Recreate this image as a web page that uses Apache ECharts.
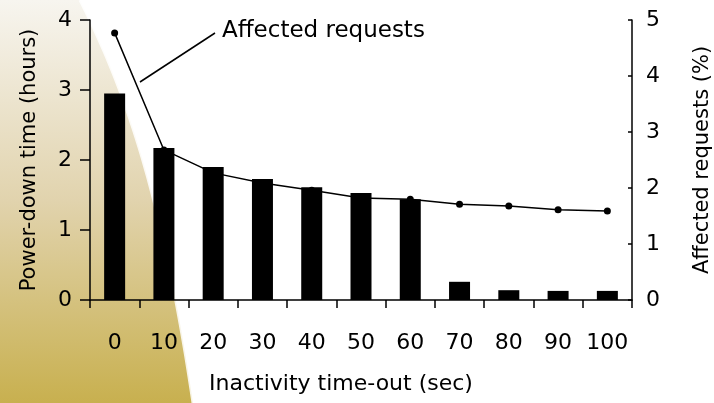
<!DOCTYPE html>
<html><head><meta charset="utf-8">
<script src="https://cdn.jsdelivr.net/npm/echarts@6/dist/echarts.min.js"></script>
<style>html,body{margin:0;padding:0;background:#fff}#c{width:714px;height:403px}</style>
</head><body><div id="c"></div>
<script>
const categories = ['0','10','20','30','40','50','60','70','80','90','100'];
const powerDownHours = [2.95, 2.17, 1.90, 1.73, 1.61, 1.53, 1.44, 0.26, 0.14, 0.13, 0.13];
const affectedPct = [4.77, 2.68, 2.27, 2.09, 1.96, 1.82, 1.80, 1.71, 1.68, 1.61, 1.59];

const FONT = 'DejaVu Sans';

// decorative background wedge (cubic bezier boundary)
function bez(p0,p1,p2,p3,t){const u=1-t;return u*u*u*p0+3*u*u*t*p1+3*u*t*t*p2+t*t*t*p3;}
const edge = [];
for (let i=0;i<=40;i++){const t=i/40;edge.push([bez(80,120,160,193,t), bez(0,80,180,403,t)]);}
const wedge = [[0,0]].concat(edge).concat([[0,403]]);

const chart = echarts.init(document.getElementById('c'), null, {renderer:'canvas'});
chart.setOption({
  backgroundColor: '#ffffff',
  animation: false,
  textStyle: {fontFamily: FONT, color:'#000'},
  graphic: [
    {type:'polygon', z:-10, silent:true,
     shape:{points:wedge},
     style:{fill:{type:'linear',x:0,y:0,x2:0,y2:1,colorStops:[{offset:0,color:'#f7f5ef'},{offset:0.5,color:'#e1d3ad'},{offset:1,color:'#c8b04f'}]}}},
    {type:'polyline', z:-9, silent:true,
     shape:{points:edge},
     style:{fill:null, stroke:'rgba(255,255,255,0.85)', lineWidth:3}},
    {type:'line', z:50, shape:{x1:140,y1:82,x2:215,y2:33}, style:{stroke:'#000',lineWidth:1.5}},
    {type:'text', z:50, left:222, top:20, style:{text:'Affected requests', font:'23px "DejaVu Sans"', fill:'#000'}}
  ],
  grid: {left:90, right:82, top:20, bottom:103, containLabel:false, outerBoundsMode:'none'},
  xAxis: {
    type:'category', data:categories,
    name:'Inactivity time-out (sec)', nameLocation:'middle', nameGap:73,
    nameTextStyle:{fontSize:22, fontFamily:FONT, color:'#000', padding:[0,40,0,0]},
    axisLine:{lineStyle:{color:'#000', width:1.5}},
    axisTick:{show:true, length:8, lineStyle:{color:'#000',width:1.5}},
    axisLabel:{fontSize:22, margin:32, interval:0, color:'#000', fontFamily:FONT}
  },
  yAxis: [
    {type:'value', min:0, max:4, interval:1, position:'left',
     name:'Power-down time (hours)', nameLocation:'middle', nameGap:50, nameRotate:90,
     nameTextStyle:{fontSize:21, fontFamily:FONT, color:'#000'},
     axisLine:{show:true, lineStyle:{color:'#000',width:1.5}},
     axisTick:{show:true, length:10, lineStyle:{color:'#000',width:1.5}},
     axisLabel:{fontSize:22, margin:18, color:'#000', fontFamily:FONT},
     splitLine:{show:false}},
    {type:'value', min:0, max:5, interval:1, position:'right',
     name:'Affected requests (%)', nameLocation:'middle', nameGap:60, nameRotate:90,
     nameTextStyle:{fontSize:21, fontFamily:FONT, color:'#000'},
     axisLine:{show:true, lineStyle:{color:'#000',width:1.5}},
     axisTick:{show:true, inside:true, length:4, lineStyle:{color:'#000',width:1.5}},
     axisLabel:{fontSize:22, margin:14, color:'#000', fontFamily:FONT},
     splitLine:{show:false}}
  ],
  series: [
    {type:'line', yAxisIndex:1, data:affectedPct, z:2,
     symbol:'circle', symbolSize:7, itemStyle:{color:'#000'},
     lineStyle:{color:'#000', width:1.5}},
    {type:'bar', yAxisIndex:0, data:powerDownHours, z:3, barWidth:21,
     itemStyle:{color:'#000'}}
  ]
});
</script></body></html>
